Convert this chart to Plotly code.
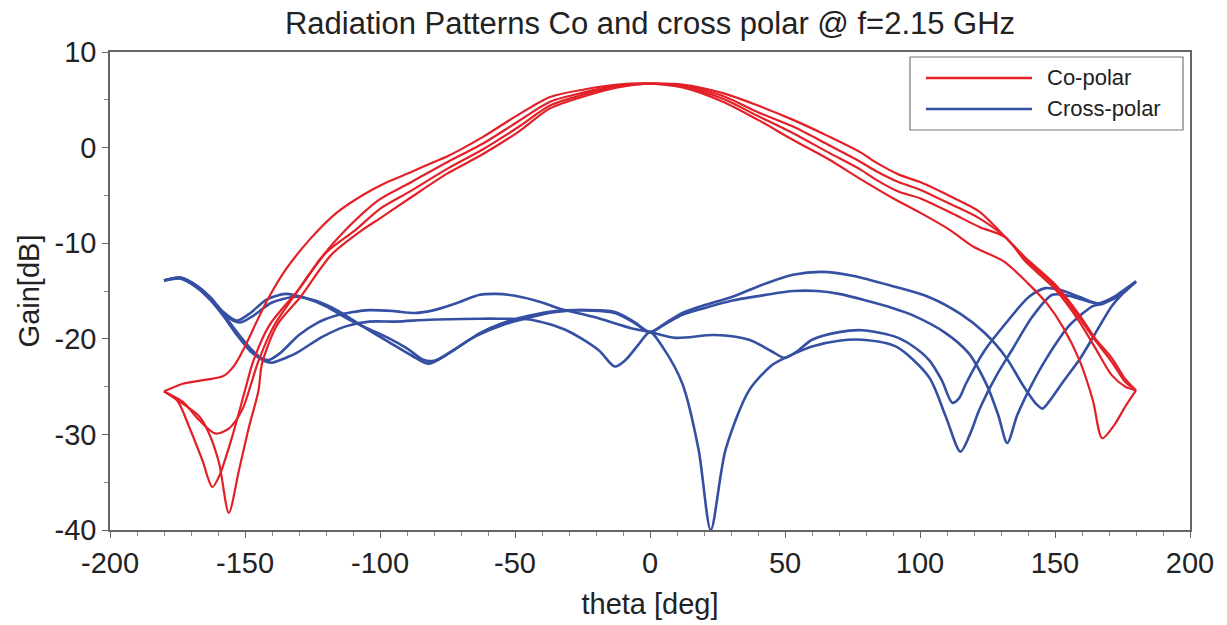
import plotly.graph_objects as go

# ---------------- data ----------------
# Co-polar cuts
co_a_theta = [-180, -173, -165, -158, -154, -150, -146, -142, -135, -126, -116, -106, -98, -88, -80, -75, -62, -49, -37, -24, -12, 0,
              12, 27, 40, 53, 66, 78, 90, 100, 111, 120, 131, 140, 147, 153, 159, 164, 167.5, 172, 176, 180]
co_a_gain = [-25.5, -24.7, -24.3, -23.9, -22.8, -20.8, -18.4, -16.1, -12.8, -9.6, -6.8, -4.9, -3.7, -2.5, -1.5, -0.9, 1.1, 3.4, 5.3, 6.1, 6.6, 6.7,
             6.3, 4.8, 2.9, 0.8, -1.2, -3.3, -5.3, -6.8, -8.6, -10.4, -11.9, -14.2, -16.3, -18.8, -22.2, -26.4, -30.4, -29.0, -27.1, -25.4]

co_b_theta = [-180, -173, -167, -161, -156, -151, -147.5, -145, -139, -132, -122, -112.7, -100, -89, -75, -62, -49, -37, -24, -12, 0,
              12, 27, 40, 53, 66, 78, 84, 92, 100, 112, 122, 131.7, 139, 150, 159, 165, 171, 176, 180]
co_b_gain = [-25.5, -26.6, -28.5, -29.9, -29.4, -27.4, -24.5, -22.3, -18.5, -15.6, -11.6, -8.6, -5.4, -3.7, -1.5, 0.4, 2.7, 4.8, 5.8, 6.5, 6.7,
             6.6, 5.7, 4.4, 2.9, 1.2, -0.5, -1.6, -2.8, -3.6, -5.2, -6.7, -9.4, -11.5, -14.3, -17.5, -20.0, -22.0, -24.2, -25.4]

co_c_theta = [-180, -175, -170.7, -165.8, -162.1, -159.6, -154.7, -150, -147, -141, -130, -120, -109, -100, -89, -75, -62, -49, -37, -24, -12, 0,
              12, 27, 40, 53, 66, 78, 84, 92, 100, 112, 122, 131.7, 139, 150, 159, 165, 171, 176, 180]
co_c_gain = [-25.5, -26.5, -29.2, -32.7, -35.5, -34.4, -30.2, -25.4, -22.4, -18.6, -14.8, -11.0, -8.6, -6.4, -4.6, -2.2, -0.2, 2.1, 4.4, 5.6, 6.4, 6.7,
             6.5, 5.4, 3.7, 2.2, 0.3, -1.5, -2.5, -3.6, -4.4, -6.0, -7.4, -9.4, -11.7, -14.5, -17.8, -20.2, -22.4, -24.5, -25.4]

co_d_theta = [-180, -174, -167, -163.3, -159.6, -156, -152.2, -148.5, -145, -143.7, -138, -129.4, -118, -106.5, -100, -89, -75, -62, -49, -37, -24, -12, 0,
              12, 27, 40, 53, 66, 78, 84, 92, 100, 112, 122, 131.7, 139, 150, 159, 165, 171, 176, 180]
co_d_gain = [-25.5, -26.6, -28.1, -29.9, -33.0, -38.2, -33.7, -29.2, -25.4, -22.6, -18.5, -15.6, -11.2, -8.6, -7.4, -5.3, -2.7, -0.7, 1.6, 4.1, 5.4, 6.3, 6.7,
             6.4, 5.1, 3.3, 1.5, -0.5, -2.3, -3.4, -4.6, -5.3, -6.9, -8.3, -9.4, -11.9, -14.8, -18.2, -21.0, -23.8, -25.0, -25.4]

# Cross-polar cuts
x_p_theta = [-180, -174, -168, -163, -158, -153, -148, -142, -135, -128, -120, -111.5, -104, -97, -90, -84, -80, -74, -63, -55, -45, -35, -25, -13, -6, 0,
             6, 12, 20, 30.5, 43, 53, 63.8, 75, 90, 103, 115, 124, 132, 138, 143, 145.3, 148, 153, 159, 165, 171, 175, 180]
x_p_gain = [-13.9, -13.6, -14.4, -15.6, -17.2, -18.1, -17.3, -15.9, -15.3, -15.7, -16.6, -18.0, -19.0, -19.9, -21.0, -22.2, -22.3, -21.4, -19.4, -18.4, -17.6, -17.1, -17.0, -17.3, -18.3, -19.3,
            -18.3, -17.3, -16.5, -15.6, -14.2, -13.3, -13.0, -13.4, -14.5, -15.6, -17.4, -19.4, -22.0, -24.8, -26.8, -27.3, -26.5, -24.5, -22.2, -19.4, -16.6, -15.3, -14.0]

x_q_theta = [-180, -174, -168, -163, -158, -152, -147, -140, -131, -124, -116, -107, -97, -88, -82, -76, -65, -55, -45, -35, -25, -13, -6, 0,
             6, 12, 20, 30.5, 43, 53, 62, 70, 80, 90, 97, 109.5, 118, 125, 129, 132.3, 136, 141, 146.5, 155, 160, 163.8, 168, 174, 180]
x_q_gain = [-13.9, -13.7, -14.6, -15.8, -17.4, -18.3, -17.6, -16.2, -15.6, -16.0, -17.0, -18.6, -20.3, -21.8, -22.6, -21.8, -19.8, -18.6, -17.8, -17.2, -17.0, -17.2, -18.2, -19.3,
            -18.4, -17.5, -16.8, -16.0, -15.4, -15.0, -15.0, -15.3, -16.0, -16.8, -17.5, -19.4, -21.5, -25.0, -28.0, -30.9, -28.0, -25.0, -22.2, -18.7, -17.4, -16.6, -16.3, -15.3, -14.0]

x_r_theta = [-180, -174, -168, -163, -158, -153, -148, -144, -141, -137, -130, -123, -116.5, -110, -104, -95, -87, -80, -72, -63, -57, -50, -40, -34, -21, -7, 0,
             9.5, 24, 36.7, 45, 50, 55, 60, 70, 78.6, 91, 97, 103.3, 108, 112, 114.5, 117, 124, 131.7, 140.4, 146.5, 152, 158.9, 166, 172, 176, 180]
x_r_gain = [-13.9, -13.6, -14.5, -15.7, -17.4, -19.3, -21.0, -22.0, -22.2, -21.5, -19.6, -18.3, -17.6, -17.2, -17.0, -17.1, -17.3, -17.0, -16.3, -15.4, -15.3, -15.5, -16.2, -16.8, -17.7, -18.9, -19.3,
            -19.9, -19.6, -20.1, -21.3, -22.0, -21.2, -20.1, -19.3, -19.1, -19.8, -20.7, -22.2, -24.3, -26.7, -26.2, -24.7, -21.2, -18.4, -15.6, -14.7, -14.9, -15.6, -16.3, -15.8, -15.0, -14.0]

x_s_theta = [-180, -174, -168, -163, -158, -153, -148, -143, -140, -135, -131, -121.4, -112.7, -104, -94, -82, -63, -56, -44, -31, -19, -13, -9, -4, 0,
             5, 12, 18, 22.5, 28, 36.7, 45, 50, 60, 70, 78.6, 91, 103.3, 109.5, 115, 118.5, 122, 128, 134, 141.6, 149, 155, 160, 166, 172, 176, 180]
x_s_gain = [-13.9, -13.7, -14.6, -15.9, -17.6, -19.6, -21.3, -22.3, -22.5, -22.0, -21.5, -19.8, -18.7, -18.2, -18.2, -18.0, -17.9, -17.9, -18.0, -19.1, -21.2, -22.9, -22.2, -20.5, -19.3,
            -21.0, -24.7, -31.6, -40.0, -31.6, -25.4, -22.8, -22.0, -20.8, -20.2, -20.1, -20.8, -24.0, -28.1, -31.8, -30.0, -27.4, -24.0, -21.2, -17.7, -15.4, -15.5, -15.9, -16.3, -15.6, -14.8, -14.0]

co_curves = [(co_a_theta, co_a_gain), (co_b_theta, co_b_gain), (co_c_theta, co_c_gain), (co_d_theta, co_d_gain)]
cross_curves = [(x_p_theta, x_p_gain), (x_q_theta, x_q_gain), (x_r_theta, x_r_gain), (x_s_theta, x_s_gain)]

series_names = ["Co-polar", "Cross-polar"]
title_text = "Radiation Patterns Co and cross polar @ f=2.15 GHz"
x_title = "theta [deg]"
y_title = "Gain[dB]"
x_tick_vals = [-200, -150, -100, -50, 0, 50, 100, 150, 200]
x_tick_text = ["-200", "-150", "-100", "-50", "0", "50", "100", "150", "200"]
y_tick_vals = [-40, -30, -20, -10, 0, 10]
y_tick_text = ["-40", "-30", "-20", "-10", "0", "10"]

RED = "#E32027"
BLUE = "#3550A3"
FONT = "Liberation Sans, Arial, sans-serif"

fig = go.Figure()
for th, g in cross_curves:
    fig.add_trace(go.Scatter(x=th, y=g, mode="lines", name=series_names[1],
                             line=dict(color=BLUE, width=2.6, shape="spline", smoothing=0.8),
                             showlegend=False, hoverinfo="x+y"))
for th, g in co_curves:
    fig.add_trace(go.Scatter(x=th, y=g, mode="lines", name=series_names[0],
                             line=dict(color=RED, width=2.2, shape="spline", smoothing=0.8),
                             showlegend=False, hoverinfo="x+y"))

# Legend drawn as a boxed key in the upper right
L, R_, T, B = 110, 1190, 52, 530
def px(xp):
    return (xp - L) / (R_ - L)
def py(yp):
    return (B - yp) / (B - T)

shapes = [dict(type="rect", xref="paper", yref="paper", x0=px(910), x1=px(1183), y0=py(130), y1=py(57),
               line=dict(color="#777777", width=1.2), fillcolor="white", layer="above")]
annotations = []
for i, (nm, col) in enumerate(zip(series_names, [RED, BLUE])):
    yy = py(78 + i * 31)
    shapes.append(dict(type="line", xref="paper", yref="paper", x0=px(926), x1=px(1032), y0=yy, y1=yy,
                       line=dict(color=col, width=2.6), layer="above"))
    annotations.append(dict(xref="paper", yref="paper", x=px(1045), y=yy, text=nm, showarrow=False,
                            xanchor="left", yanchor="middle", font=dict(family=FONT, size=22, color="#222222")))

fig.update_layout(
    width=1227, height=625,
    margin=dict(l=L, r=1227 - R_, t=T, b=625 - B),
    paper_bgcolor="white", plot_bgcolor="white",
    font=dict(family=FONT, color="#222222"),
    title=dict(text=title_text, x=(L + R_) / 2 / 1227, xanchor="center", y=1 - 23 / 625, yanchor="middle",
               font=dict(family=FONT, size=31, color="#222222")),
    showlegend=False,
    shapes=shapes,
    annotations=annotations,
    xaxis=dict(range=[-200, 200], tickmode="array", tickvals=x_tick_vals, ticktext=x_tick_text,
               showgrid=False, zeroline=False, automargin=False,
               showline=True, linecolor="#666666", linewidth=1.5, mirror=True,
               ticks="outside", ticklen=6, tickcolor="#666666", tickwidth=1.2,
               minor=dict(dtick=10, tick0=0, ticks="outside", ticklen=4, tickcolor="#888888", showgrid=False),
               tickfont=dict(family=FONT, size=29, color="#222222"),
               title=dict(text=x_title, font=dict(family=FONT, size=29, color="#222222"), standoff=16)),
    yaxis=dict(range=[-40, 10], tickmode="array", tickvals=y_tick_vals, ticktext=y_tick_text,
               showgrid=False, zeroline=False, automargin=False,
               showline=True, linecolor="#666666", linewidth=1.5, mirror=True,
               ticks="outside", ticklen=6, tickcolor="#666666", tickwidth=1.2,
               minor=dict(dtick=5, tick0=0, ticks="outside", ticklen=4, tickcolor="#888888", showgrid=False),
               tickfont=dict(family=FONT, size=29, color="#222222"),
               title=dict(text=y_title, font=dict(family=FONT, size=29, color="#222222"), standoff=6)),
)

fig.write_html("out.html", config={"displayModeBar": False},
               post_script="document.body.style.margin='0';document.body.style.overflow='hidden';")
